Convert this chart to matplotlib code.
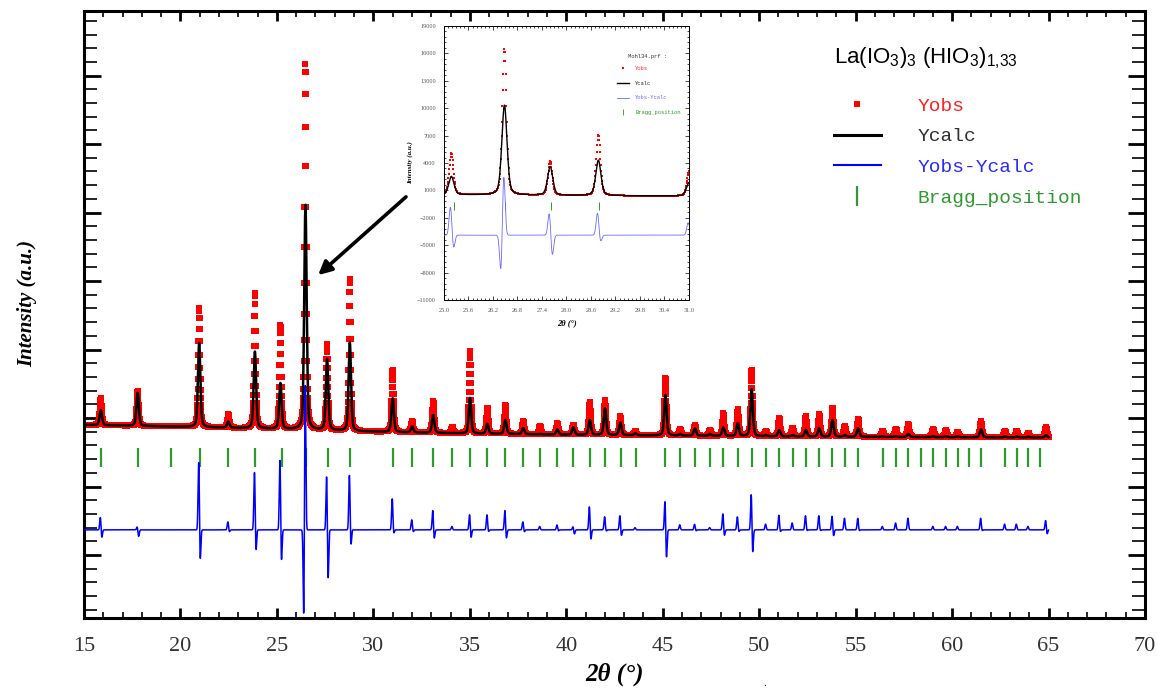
import matplotlib
matplotlib.use("Agg")
import matplotlib.pyplot as plt
from matplotlib.lines import Line2D
from matplotlib.ticker import MultipleLocator, AutoMinorLocator, FormatStrFormatter
import numpy as np

plt.rcParams['font.family'] = ['Liberation Serif', 'DejaVu Serif']
plt.rcParams['mathtext.fontset'] = 'custom'
plt.rcParams['mathtext.rm'] = 'Liberation Sans'
plt.rcParams['mathtext.default'] = 'rm'

# Bragg reflection positions (2theta, degrees)
bragg_pos = [15.88, 17.81, 19.49, 21.01, 22.48, 23.86, 25.25, 26.50, 27.63, 28.79,
             31.00, 32.01, 33.10, 34.09, 35.01, 35.91, 36.84, 37.77, 38.64, 39.54,
             40.37, 41.23, 42.01, 42.84, 43.62, 45.14, 45.90, 46.67, 47.45, 48.14,
             48.89, 49.61, 50.35, 51.04, 51.73, 52.42, 53.11, 53.80, 54.44, 55.13,
             56.40, 57.09, 57.73, 58.37, 59.02, 59.68, 60.29, 60.89, 61.50, 62.74,
             63.35, 63.95, 64.55]

# background (counts)
bg_pos = [15, 20, 25, 30, 35, 40, 50, 60, 65]
bg_int = [700, 620, 520, 400, 320, 270, 200, 160, 140]

# peaks: position, Yobs top, Ycalc top, difference lobes
peak_pos = [15.87, 17.78, 20.97, 22.48, 23.86, 25.18, 26.48, 27.60, 28.78, 31.00,
            32.01, 33.10, 34.09, 35.01, 35.91, 36.84, 37.77, 38.64, 39.54, 40.37,
            41.22, 42.01, 42.80, 43.58, 45.14, 45.90, 46.67, 47.45, 48.14, 48.89,
            49.61, 50.35, 51.04, 51.73, 52.42, 53.11, 53.80, 54.44, 55.13, 56.40,
            57.09, 57.73, 59.02, 59.68, 60.29, 61.50, 62.74, 63.35, 63.95, 64.87]
obs_top = [1870, 2170, 5820, 1150, 6470, 5070, 16500, 4200, 7060, 3120,
           870, 1750, 600, 3940, 1450, 1550, 850, 650, 760, 710,
           1690, 1780, 1080, 420, 2750, 520, 670, 460, 1220, 1370,
           3120, 420, 1000, 560, 1080, 1150, 1440, 640, 960, 420,
           520, 750, 520, 460, 380, 860, 420, 450, 350, 610]
calc_top = [1350, 2095, 4285, 840, 3905, 2518, 10330, 3580, 4300, 1860,
            620, 1130, 300, 1880, 737, 912, 550, 300, 500, 590,
            912, 1425, 794, 330, 2007, 300, 549, 300, 590, 768,
            2257, 250, 474, 250, 474, 549, 912, 250, 549, 200,
            200, 300, 200, 200, 200, 505, 200, 200, 180, 250]
diff_up = [580, 150, 3110, 360, 2630, 3210, 7150, 2550, 2480, 1380,
           450, 890, 150, 700, 670, 890, 360, 150, 220, 150,
           1060, 580, 650, 100, 1360, 220, 250, 100, 730, 580,
           1650, 250, 650, 300, 625, 625, 625, 510, 510, 150,
           300, 510, 150, 150, 150, 510, 250, 250, 150, 430]
diff_down = [370, 300, 1500, 100, 1070, 1560, 4700, 2340, 800, 200,
             100, 430, 0, 380, 100, 420, 100, 0, 50, 190,
             480, 70, 290, 0, 1310, 0, 50, 0, 290, 100,
             1100, 0, 100, 0, 50, 50, 300, 0, 50, 0,
             0, 0, 0, 0, 0, 50, 0, 0, 0, 200]
diff_lag = [0.05] * len(peak_pos)
diff_lag[6] = -0.08

DIFF_OFFSET = -3900
BRAGG_TOP, BRAGG_BOTTOM = -300, -1150

RED = '#ff0000'
BLUE = '#0000ff'
GREEN = '#2f9a2f'


def pseudo_voigt(x, centre, fwhm, eta=0.35):
    u = (x - centre) / fwhm
    return eta / (1 + 4 * u**2) + (1 - eta) * np.exp(-4 * np.log(2) * u**2)


def gauss(x, centre, fwhm):
    return np.exp(-4 * np.log(2) * ((x - centre) / fwhm)**2)


x_obs = np.arange(15.0, 65.0001, 0.01)
x_fine = np.arange(15.0, 65.0001, 0.005)

y_obs = np.interp(x_obs, bg_pos, bg_int).astype(float)
y_calc = np.interp(x_fine, bg_pos, bg_int).astype(float)
y_diff = np.full_like(x_fine, DIFF_OFFSET, dtype=float)
for p, o, c, up, dn, lag in zip(peak_pos, obs_top, calc_top, diff_up, diff_down, diff_lag):
    b = np.interp(p, bg_pos, bg_int)
    y_obs += max(o - b, 0) * pseudo_voigt(x_obs, p, 0.12)
    y_calc += max(c - b, 0) * pseudo_voigt(x_fine, p, 0.15)
    y_diff += up * gauss(x_fine, p - 0.02, 0.08) - dn * gauss(x_fine, p + lag, 0.08)

W, H = 1157, 688
fig = plt.figure(figsize=(W / 100, H / 100), dpi=100)
ax = fig.add_axes([84 / W, 1 - 618 / H, (1145 - 84) / W, (618 - 11) / H])

ax.plot(x_obs, y_obs, ls='none', marker='s', ms=5, mew=0, color=RED, zorder=2)
ax.plot(x_fine, y_calc, color='black', lw=1.8, zorder=3)
ax.vlines(bragg_pos, BRAGG_BOTTOM, BRAGG_TOP, color=GREEN, lw=1.6, zorder=3)
ax.plot(x_fine, y_diff, color=BLUE, lw=1.1, zorder=4)

ax.set_xlim(15, 70)
ax.set_ylim(-7760, 18830)
ax.xaxis.set_major_locator(MultipleLocator(5))
ax.xaxis.set_minor_locator(MultipleLocator(1))
ax.yaxis.set_major_locator(MultipleLocator(3000, offset=1000))
ax.yaxis.set_minor_locator(AutoMinorLocator(5))
ax.tick_params(which='both', direction='in', top=True, right=True, labelleft=False,
               color='black')
ax.tick_params(axis='x', which='major', length=7, width=2, labelsize=16, pad=14,
               labelcolor='#333333')
ax.tick_params(axis='x', which='minor', length=4, width=1.2)
ax.tick_params(axis='y', which='major', length=12, width=2)
ax.tick_params(axis='y', which='minor', length=9.5, width=1.2)
for s in ax.spines.values():
    s.set_linewidth(2.2)

fig.text(27 / W, 1 - 303 / H, 'Intensity (a.u.)', rotation=90, ha='center', va='center',
         fontsize=15, fontweight='bold', fontstyle='italic')
fig.text(615 / W, 2 / H, '2θ (°)', ha='center', va='bottom',
         fontsize=18, fontweight='bold', fontstyle='italic')
fig.text(765 / W, 1 - 686 / H, '.', ha='center', va='baseline', fontsize=8)

# arrow pointing at the strongest reflection
ax.annotate('', xy=(27.03, 7180), xytext=(31.8, 10770),
            arrowprops=dict(arrowstyle='-|>', lw=2.6, color='black', mutation_scale=20),
            annotation_clip=False, zorder=6)

# legend of the main pattern
fig.text(834 / W, 1 - 63 / H, 'La(IO$_3$)$_3$ (HIO$_3$)$_{1{,}33}$', ha='left', va='baseline',
         fontsize=16, family='Liberation Sans')
handles = [Line2D([], [], ls='none', marker='s', ms=4, mew=0, color=RED),
           Line2D([], [], color='black', lw=2.2),
           Line2D([], [], color=BLUE, lw=1.5),
           Line2D([], [], ls='none', marker='|', ms=15, mew=1.6, color=GREEN)]
labels = ['Yobs', 'Ycalc', 'Yobs-Ycalc', 'Bragg_position']
text_colors = ['#ff2020', '#303030', '#2b2bff', '#2f9a2f']
leg = ax.legend(handles, labels, loc='upper left', bbox_to_anchor=(834 / W, 1 - 97 / H),
                bbox_transform=fig.transFigure, frameon=False,
                prop={'family': 'Liberation Mono', 'size': 14},
                handlelength=2.4, handletextpad=1.9, labelspacing=0.68,
                borderpad=0, borderaxespad=0)
for t, c in zip(leg.get_texts(), text_colors):
    t.set_color(c)

# inset: zoom on 25-31 degrees
axin = fig.add_axes([444 / W, 1 - 300 / H, 245 / W, 274 / H])
axin.plot(x_obs, y_obs, ls='none', marker='s', ms=1.6, mew=0, color=RED, zorder=2)
axin.plot(x_fine, y_calc, color='black', lw=1.0, zorder=3)
axin.vlines(bragg_pos, BRAGG_BOTTOM, BRAGG_TOP, color=GREEN, lw=0.7, zorder=3)
axin.plot(x_fine, y_diff, color='#6a6aff', lw=0.6, zorder=4)
axin.set_xlim(25.0, 31.0)
axin.set_ylim(-11000, 19000)
axin.xaxis.set_major_locator(MultipleLocator(0.6, offset=0.4))
axin.xaxis.set_minor_locator(AutoMinorLocator(6))
axin.xaxis.set_major_formatter(FormatStrFormatter('%.1f'))
axin.yaxis.set_major_locator(MultipleLocator(3000, offset=1000))
axin.yaxis.set_minor_locator(AutoMinorLocator(5))
axin.tick_params(which='both', direction='in', top=True, right=True, width=0.5,
                 labelsize=4.5, labelcolor='#555555', pad=6)
axin.tick_params(which='major', length=3)
axin.tick_params(which='minor', length=1.5)
for s in axin.spines.values():
    s.set_linewidth(0.7)
axin.set_ylabel('Intensity (a.u.)', fontsize=5, fontweight='bold', fontstyle='italic',
                labelpad=3)
axin.set_xlabel('2θ (°)', fontsize=6, fontweight='bold', fontstyle='italic', labelpad=4)

fig.text(628 / W, 1 - 58 / H, 'Mohl34.prf :', ha='left', va='baseline', fontsize=4,
         family='Liberation Mono', color='#333333')
in_handles = [Line2D([], [], ls='none', marker='s', ms=1.8, mew=0, color=RED),
              Line2D([], [], color='black', lw=1.0),
              Line2D([], [], color='#6a6aff', lw=0.6),
              Line2D([], [], ls='none', marker='|', ms=5, mew=0.6, color=GREEN)]
in_colors = ['#ff3030', '#333333', '#6a6aff', '#2f9a2f']
leg_in = axin.legend(in_handles, labels, loc='upper left', bbox_to_anchor=(617 / W, 1 - 66 / H),
                     bbox_transform=fig.transFigure, frameon=False,
                     prop={'family': 'Liberation Mono', 'size': 4},
                     handlelength=2.2, handletextpad=1.1, labelspacing=1.75,
                     borderpad=0, borderaxespad=0)
for t, c in zip(leg_in.get_texts(), in_colors):
    t.set_color(c)

fig.savefig('out.png', dpi=100)
